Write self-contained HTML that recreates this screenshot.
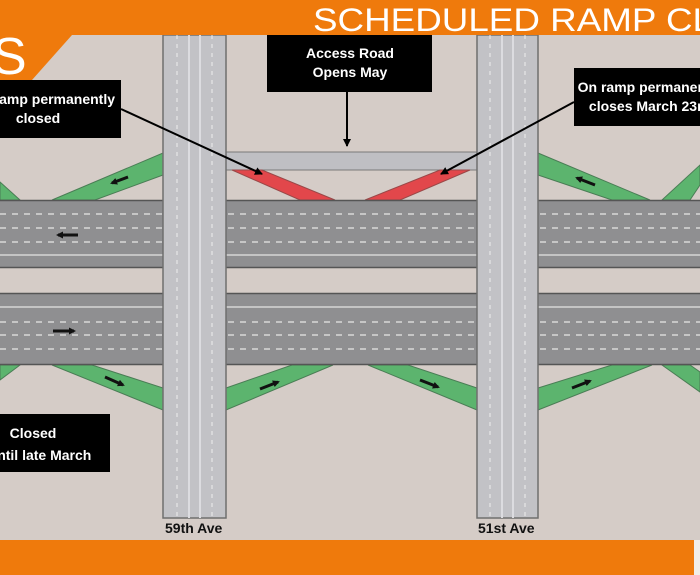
<!DOCTYPE html>
<html><head><meta charset="utf-8"><style>
html,body{margin:0;padding:0;width:700px;height:575px;overflow:hidden;background:#d5ccc7}
svg{display:block}
text{font-family:"Liberation Sans",Arial,sans-serif}
</style></head><body>
<svg width="700" height="575" viewBox="0 0 700 575">
<defs>
<marker id="ah" markerWidth="8" markerHeight="8" refX="7" refY="4" orient="auto" markerUnits="userSpaceOnUse"><path d="M0,0 L8,4 L0,8 z" fill="#000"/></marker>
<marker id="sa" markerWidth="7" markerHeight="7" refX="5" refY="3.5" orient="auto" markerUnits="userSpaceOnUse"><path d="M0,0 L7,3.5 L0,7 z" fill="#111"/></marker>
</defs>
<rect width="700" height="575" fill="#d5ccc7"/>
<rect x="226" y="152" width="251" height="18" fill="#bfbfc3" stroke="#7a7a7a" stroke-width="1"/>
<g fill="#5cb46e" stroke="#4a7d55" stroke-width="1">
<polygon points="163,153 163,175 95,200 52,200"/>
<polygon points="0,182 20,200 0,200"/>
<polygon points="538,153 650,200 612,200 538,175"/>
<polygon points="700,165 700,185 690,200 662,200"/>
<polygon points="163,388 163,410 52,365 92,365"/>
<polygon points="226,388 226,410 333,365 292,365"/>
<polygon points="477,388 477,410 368,365 408,365"/>
<polygon points="538,388 538,410 652,365 612,365"/>
<polygon points="0,380 0,365 20,365"/>
<polygon points="662,365 690,365 700,372 700,392"/>
</g>
<g fill="#e2474b" stroke="#9a4848" stroke-width="1">
<polygon points="232,170 262,170 335,200 300,200"/>
<polygon points="440,170 470,170 400,200 365,200"/>
</g>
<g>
<rect x="0" y="200" width="700" height="68" fill="#8f8f91"/>
<line x1="0" y1="200.5" x2="700" y2="200.5" stroke="#555" stroke-width="1.5"/>
<line x1="0" y1="255" x2="700" y2="255" stroke="#c4c4c4" stroke-width="2"/>
<line x1="0" y1="267.5" x2="700" y2="267.5" stroke="#555" stroke-width="1.5"/>
<rect x="0" y="293" width="700" height="72" fill="#8f8f91"/>
<line x1="0" y1="293.5" x2="700" y2="293.5" stroke="#555" stroke-width="1.5"/>
<line x1="0" y1="307" x2="700" y2="307" stroke="#c4c4c4" stroke-width="2"/>
<line x1="0" y1="364.5" x2="700" y2="364.5" stroke="#555" stroke-width="1.5"/>
<g stroke="#d8d8d8" stroke-width="1.5" stroke-dasharray="6,6">
<line x1="0" y1="214" x2="700" y2="214"/><line x1="0" y1="228" x2="700" y2="228"/><line x1="0" y1="242" x2="700" y2="242"/>
<line x1="0" y1="322" x2="700" y2="322"/><line x1="0" y1="335" x2="700" y2="335"/><line x1="0" y1="349" x2="700" y2="349"/>
</g>
</g>
<g>
<rect x="163" y="35" width="63" height="483" fill="#c2c2c6" stroke="#6f6f6f" stroke-width="1.5"/>
<line x1="189" y1="35" x2="189" y2="518" stroke="#dcdce0" stroke-width="2"/>
<line x1="200" y1="35" x2="200" y2="518" stroke="#dcdce0" stroke-width="2"/>
<line x1="177" y1="35" x2="177" y2="518" stroke="#eee" stroke-width="1" stroke-dasharray="4,5"/>
<line x1="212" y1="35" x2="212" y2="518" stroke="#eee" stroke-width="1" stroke-dasharray="4,5"/>
<rect x="477" y="35" width="61" height="483" fill="#c2c2c6" stroke="#6f6f6f" stroke-width="1.5"/>
<line x1="502" y1="35" x2="502" y2="518" stroke="#dcdce0" stroke-width="2"/>
<line x1="513" y1="35" x2="513" y2="518" stroke="#dcdce0" stroke-width="2"/>
<line x1="490" y1="35" x2="490" y2="518" stroke="#eee" stroke-width="1" stroke-dasharray="4,5"/>
<line x1="525" y1="35" x2="525" y2="518" stroke="#eee" stroke-width="1" stroke-dasharray="4,5"/>
</g>
<g stroke="#111" stroke-width="3">
<line x1="78" y1="235" x2="58" y2="235" marker-end="url(#sa)"/>
<line x1="53" y1="331" x2="74" y2="331" marker-end="url(#sa)"/>
<line x1="128" y1="177" x2="112" y2="183" marker-end="url(#sa)"/>
<line x1="595" y1="185" x2="577" y2="178" marker-end="url(#sa)"/>
<line x1="105" y1="377" x2="123" y2="385" marker-end="url(#sa)"/>
<line x1="260" y1="389" x2="278" y2="382" marker-end="url(#sa)"/>
<line x1="420" y1="380" x2="438" y2="387" marker-end="url(#sa)"/>
<line x1="572" y1="388" x2="590" y2="381" marker-end="url(#sa)"/>
</g>
<rect x="0" y="0" width="700" height="35" fill="#ef7a0c"/>
<polygon points="0,35 72,35 32,80 0,80" fill="#ef7a0c"/>
<text x="-8" y="74" font-size="52" fill="#fff">S</text>
<text x="313" y="31" font-size="32" fill="#fff" textLength="400" lengthAdjust="spacingAndGlyphs">SCHEDULED RAMP CL</text>
<rect x="0" y="540" width="694" height="35" fill="#ef7a0c"/>
<rect x="694" y="540" width="6" height="35" fill="#f2ede8"/>
<g font-weight="bold" fill="#fff" font-size="14" text-anchor="middle">
<rect x="267" y="35" width="165" height="57" fill="#000"/>
<text x="350" y="58">Access Road</text><text x="350" y="77">Opens May</text>
<rect x="-2" y="80" width="123" height="58" fill="#000"/>
<text x="52" y="104">Ramp permanently</text><text x="38" y="123">closed</text>
<rect x="574" y="68" width="130" height="58" fill="#000"/>
<text x="650" y="92">On ramp permanently</text><text x="650" y="111">closes March 23rd</text>
<rect x="-2" y="414" width="112" height="58" fill="#000"/>
<text x="33" y="438">Closed</text><text x="40" y="460">until late March</text>
</g>
<g stroke="#000" stroke-width="2" fill="none">
<line x1="121" y1="109" x2="262" y2="174" marker-end="url(#ah)"/>
<line x1="347" y1="92" x2="347" y2="146" marker-end="url(#ah)"/>
<line x1="574" y1="102" x2="441" y2="174" marker-end="url(#ah)"/>
</g>
<g font-weight="bold" fill="#111" font-size="14">
<text x="165" y="533">59th Ave</text><text x="478" y="533">51st Ave</text>
</g>
</svg>
</body></html>
